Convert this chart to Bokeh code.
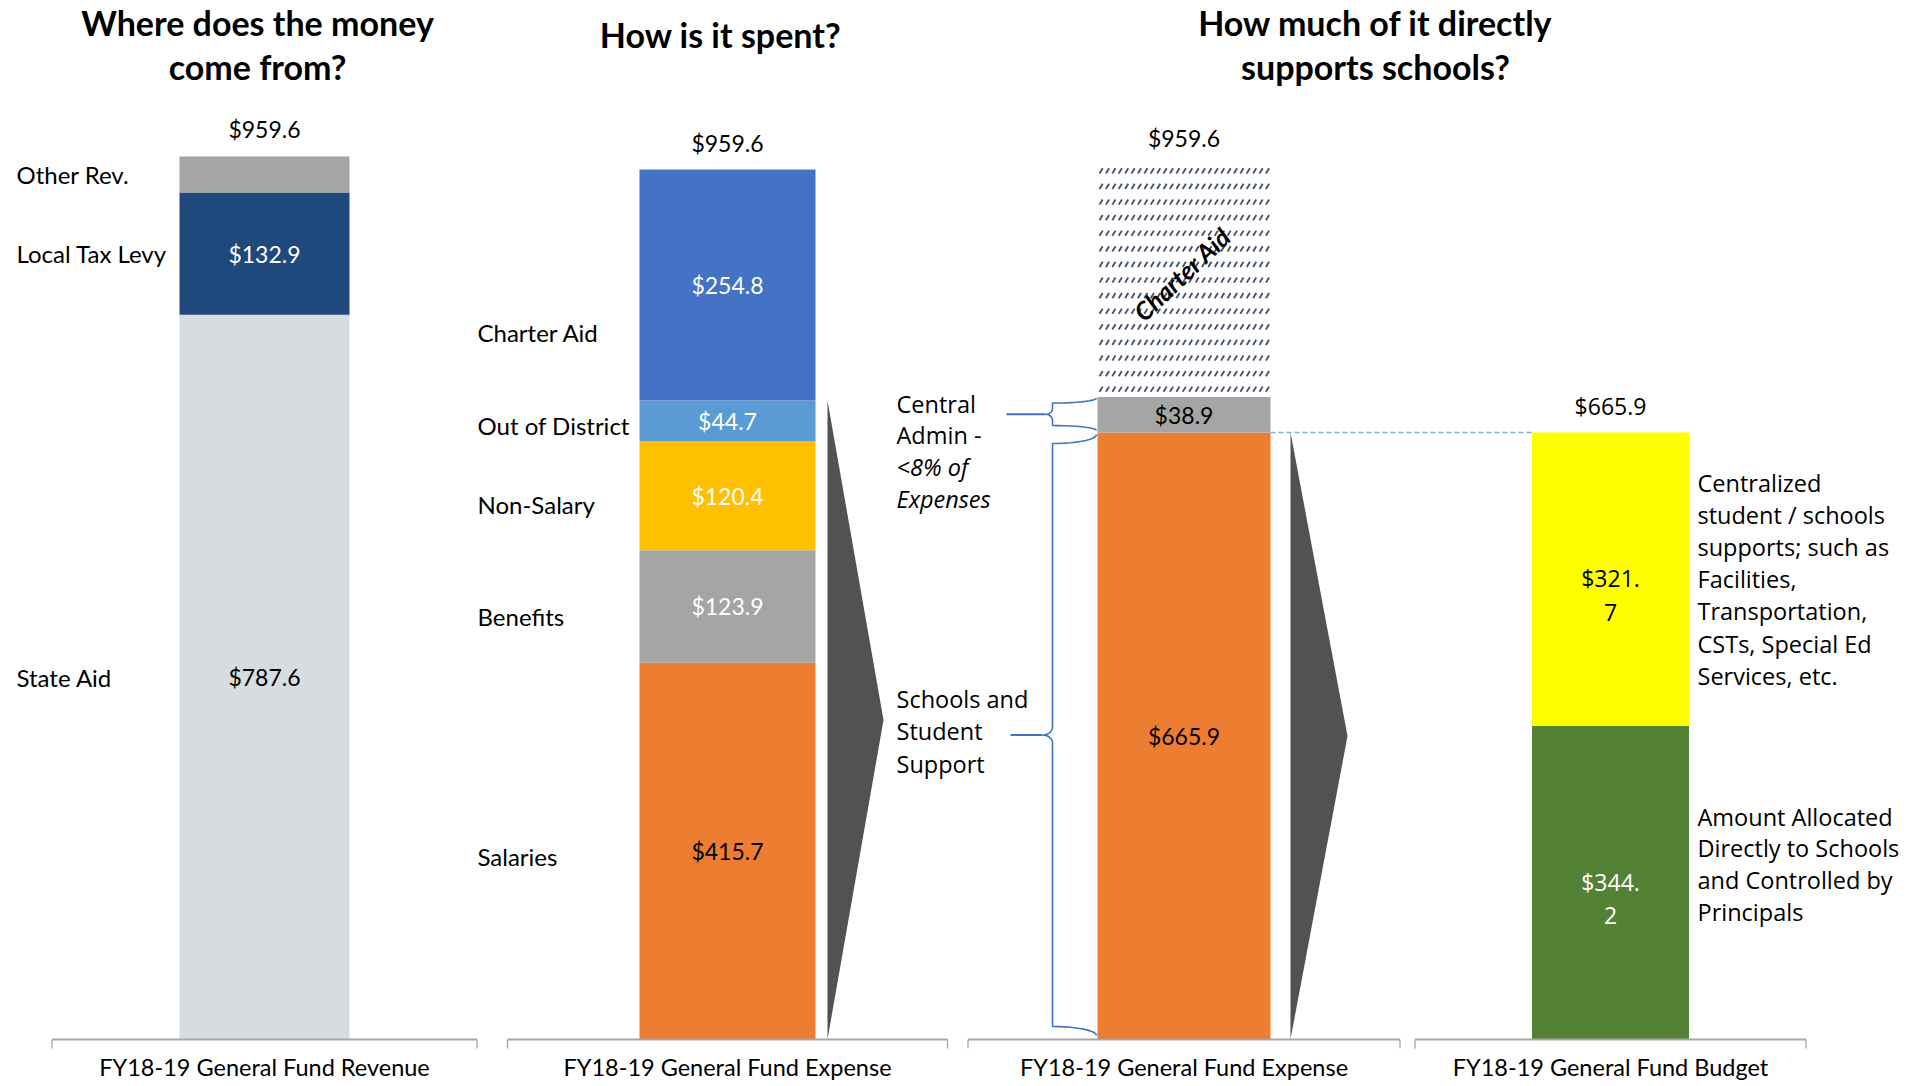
from bokeh.plotting import figure
from bokeh.models import Range1d, ColumnDataSource
from bokeh.core.properties import value
from bokeh.embed import file_html
from bokeh.resources import INLINE
import numpy as np

# ---------------- data ----------------
rev_cats = ["State Aid", "Local Tax Levy", "Other Rev."]
rev_vals = [787.6, 132.9, 39.1]
rev_total = 959.6

exp_cats = ["Salaries", "Benefits", "Non-Salary", "Out of District", "Charter Aid"]
exp_vals = [415.7, 123.9, 120.4, 44.7, 254.8]
exp_total = 959.6

sch_cats = ["Schools and Student Support", "Central Admin", "Charter Aid"]
sch_vals = [665.9, 38.9, 254.8]
sch_total = 959.6

bud_cats = ["Amount Allocated Directly to Schools", "Centralized student / schools supports"]
bud_vals = [344.2, 321.7]
bud_total = 665.9

axis_labels = ["FY18-19 General Fund Revenue", "FY18-19 General Fund Expense",
               "FY18-19 General Fund Expense", "FY18-19 General Fund Budget"]
titles = [["Where does the money", "come from?"], ["How is it spent?"],
          ["How much of it directly", "supports schools?"]]

# ---------------- layout / style ----------------
W, H = 1905, 1080
BASE = 1039                      # screen y of the zero line
centers = [264, 727, 1183.5, 1610]
widths = [170, 176, 173, 157]
scales = [0.9202, 0.9066, 0.9115, 0.9115]   # px per $M
LAB = value("Lato")
SEG = value("Open Sans")

def vrange(s):
    return Range1d(start=(BASE - H) / s, end=BASE / s)

def sy(v, s):
    return BASE - v * s

p = figure(width=W, height=H, output_backend="svg", toolbar_location=None,
           x_range=Range1d(0, W), y_range=vrange(scales[1]),
           x_axis_location=None, y_axis_location=None, min_border=0)
p.extra_y_ranges = {"p1": vrange(scales[0]), "p3": vrange(scales[2]),
                    "scr": Range1d(start=H, end=0)}
p.xgrid.visible = False
p.ygrid.visible = False
p.outline_line_color = None
p.background_fill_color = "white"
p.border_fill_color = "white"

def fmt(v):
    return "$%.1f" % v

def stack(vals):
    tops = list(np.cumsum(vals))
    bots = [0.0] + tops[:-1]
    return bots, tops

# ---------- panel 1 : revenue ----------
b1, t1 = stack(rev_vals)
src1 = ColumnDataSource(dict(x=[centers[0]] * 3, bottom=b1, top=t1,
                             color=["#D6DCE0", "#1F497D", "#A5A5A5"],
                             mid=[(a + b) / 2 for a, b in zip(b1, t1)],
                             cat=rev_cats,
                             lab=[fmt(rev_vals[0]), fmt(rev_vals[1]), ""],
                             lc=["#000000", "#FFFFFF", "#000000"],
                             lx=[16] * 3))
p.vbar(x="x", width=widths[0], bottom="bottom", top="top", fill_color="color",
       line_color=None, source=src1, y_range_name="p1")
p.text(x="x", y="mid", text="lab", text_color="lc", text_font=LAB, text_font_size="23px",
       text_align="center", text_baseline="middle", source=src1, y_range_name="p1")
p.text(x="lx", y="mid", text="cat", text_color="#000000", text_font=LAB, text_font_size="24px",
       text_align="left", text_baseline="middle", source=src1, y_range_name="p1")

# ---------- panel 2 : expense ----------
b2, t2 = stack(exp_vals)
exp_label_y = [856, 616, 504, 425, 332]
src2 = ColumnDataSource(dict(x=[centers[1]] * 5, bottom=b2, top=t2,
                             color=["#ED7D31", "#A5A5A5", "#FFC000", "#5B9BD5", "#4472C4"],
                             mid=[(a + b) / 2 for a, b in zip(b2, t2)],
                             lab=[fmt(v) for v in exp_vals],
                             lc=["#000000", "#FFFFFF", "#FFFFFF", "#FFFFFF", "#FFFFFF"]))
p.vbar(x="x", width=widths[1], bottom="bottom", top="top", fill_color="color",
       line_color=None, source=src2)
p.text(x="x", y="mid", text="lab", text_color="lc", text_font=LAB, text_font_size="23px",
       text_align="center", text_baseline="middle", source=src2)
p.text(x=[477] * 5, y=exp_label_y, text=exp_cats, text_color="#000000", text_font=LAB,
       text_font_size="24px", text_align="left", text_baseline="middle", y_range_name="scr")

# ---------- panel 3 : schools ----------
b3, t3 = stack(sch_vals)
s3 = scales[2]
p.vbar(x=[centers[2]] * 2, width=widths[2], bottom=b3[:2], top=t3[:2],
       fill_color=["#ED7D31", "#A5A5A5"], line_color=None, y_range_name="p3")
# hatched Charter Aid block: rows of short slashes inside the segment
hx0 = centers[2] - widths[2] / 2
hx1 = centers[2] + widths[2] / 2
h_top, h_bot = sy(t3[2], s3), sy(b3[2], s3)
rows = np.arange(h_top + 6, h_bot - 2, 15.6)
cols = np.arange(hx0 + 2, hx1 - 3, 6.4)
HX, HY = np.meshgrid(cols, rows)
HX, HY = HX.ravel(), HY.ravel()
p.segment(x0=HX, y0=HY + 2.6, x1=HX + 3.2, y1=HY - 2.6, line_color="#44546A",
          line_width=1.9, y_range_name="scr")
p.text(x=[centers[2] - 2], y=[(b3[2] + t3[2]) / 2 + 8], text=["Charter Aid"], angle=0.76,
       text_color="#000000", text_font=LAB, text_font_size="25px", text_font_style="bold italic",
       text_align="center", text_baseline="middle", y_range_name="p3")
p.text(x=[centers[2]] * 2, y=[(b3[0] + t3[0]) / 2, (b3[1] + t3[1]) / 2],
       text=[fmt(sch_vals[0]), fmt(sch_vals[1])], text_color="#000000", text_font=LAB,
       text_font_size="23px", text_align="center", text_baseline="middle", y_range_name="p3")

# ---------- panel 4 : budget ----------
b4, t4 = stack(bud_vals)
wrap = lambda v: fmt(v)[:-1] + "\n" + fmt(v)[-1]
p.vbar(x=[centers[3]] * 2, width=widths[3], bottom=b4, top=t4,
       fill_color=["#548235", "#FFFF00"], line_color=None, y_range_name="p3")
p.text(x=[centers[3]] * 2, y=[(a + b) / 2 for a, b in zip(b4, t4)],
       text=[wrap(v) for v in bud_vals], text_color=["#FFFFFF", "#000000"], text_font=SEG,
       text_font_size="23px", text_align="center", text_baseline="middle",
       text_line_height=1.05, y_offset=16, y_range_name="p3")

# ---------- totals above bars ----------
for c, tot, rn in [(centers[0], rev_total, "p1"), (centers[1], exp_total, "default"),
                   (centers[2], sch_total, "p3")]:
    p.text(x=[c], y=[tot], text=[fmt(tot)], text_color="#000000", text_font=LAB,
           text_font_size="23px", text_align="center", text_baseline="middle",
           y_offset=-27, y_range_name=rn)
p.text(x=[centers[3]], y=[bud_total], text=[fmt(bud_total)], text_color="#000000", text_font=SEG,
       text_font_size="23px", text_align="center", text_baseline="middle",
       y_offset=-27, y_range_name="p3")

# ---------- arrows ----------
p.patch(x=[827, 883, 827], y=[sum(exp_vals[:4]), sum(exp_vals[:4]) / 2, 0],
        fill_color="#525252", line_color=None)
p.patch(x=[1290, 1347, 1290], y=[sch_vals[0], sch_vals[0] / 2, 0],
        fill_color="#525252", line_color=None, y_range_name="p3")

# dashed connector
p.segment(x0=[hx1], x1=[centers[3] - widths[3] / 2],
          y0=[bud_total], y1=[bud_total], line_color="#8FAADC", line_width=1.6,
          line_dash="5 3", y_range_name="p3")

# ---------- braces ----------
def brace(x_right, x_mid, x_tip, y_top, y_bot, r_arm, r_mid):
    yc = (y_top + y_bot) / 2
    t = np.linspace(0, np.pi / 2, 12)
    dx = x_right - x_mid
    xs, ys = [], []
    xs += list(x_mid + dx * np.cos(t)); ys += list(y_top + r_arm * np.sin(t))
    dt = x_mid - x_tip
    xs += list(x_tip + dt * np.cos(t)); ys += list(yc - r_mid + r_mid * np.sin(t))
    xs += list(x_tip + dt * np.sin(t)); ys += list(yc + r_mid - r_mid * np.cos(t))
    xs += list(x_mid + dx * np.sin(t)); ys += list(y_bot - r_arm * np.cos(t))
    return xs, ys, yc

bx_r = hx0 - 1
xs, ys, yc1 = brace(bx_r, 1052, 1045, sy(t3[1], s3) + 1, sy(b3[1], s3) - 2, 5, 6)
p.line(xs, ys, line_color="#4472C4", line_width=1.6, y_range_name="scr")
p.line([1006, 1045], [yc1, yc1], line_color="#4472C4", line_width=2, y_range_name="scr")
xs, ys, yc2 = brace(bx_r, 1052, 1042, sy(t3[0], s3) + 2, sy(0, s3) - 4, 9, 8)
p.line(xs, ys, line_color="#4472C4", line_width=1.6, y_range_name="scr")
p.line([1010, 1042], [yc2, yc2], line_color="#4472C4", line_width=2, y_range_name="scr")

# ---------- annotation texts ----------
def lines(x, y0, step, txts, font, size, styles=None):
    st = styles if styles else ["normal"] * len(txts)
    for i, (tt, ss) in enumerate(zip(txts, st)):
        p.text(x=[x], y=[y0 + i * step], text=[tt], text_color="#000000", text_font=font,
               text_font_size=size, text_font_style=ss, text_align="left",
               text_baseline="middle", y_range_name="scr")

lines(896, 403, 31.7, ["Central", "Admin -", "<8% of", "Expenses"], SEG, "23.5px",
      styles=["normal", "normal", "italic", "italic"])
lines(896, 698, 32.5, ["Schools and", "Student", "Support"], SEG, "23.5px")
lines(1697, 482, 32.2, ["Centralized", "student / schools", "supports; such as", "Facilities,",
                        "Transportation,", "CSTs, Special Ed", "Services, etc."], SEG, "23.5px")
lines(1697, 816, 31.8, ["Amount Allocated", "Directly to Schools", "and Controlled by",
                        "Principals"], SEG, "23.5px")

# titles
for c, tl in zip([257, 720, 1375], titles):
    y0 = 34 if len(tl) == 1 else 22
    for i, t in enumerate(tl):
        p.text(x=[c], y=[y0 + 44 * i], text=[t], text_color="#000000", text_font=LAB,
               text_font_size="34px", text_font_style="bold", text_align="center",
               text_baseline="middle", y_range_name="scr")

# ---------- category axes ----------
half = [212.5, 220, 216, 195.5]
x0 = [c - h for c, h in zip(centers, half)]
x1 = [c + h for c, h in zip(centers, half)]
p.segment(x0=x0, x1=x1, y0=[BASE] * 4, y1=[BASE] * 4, line_color="#A6A6A6", line_width=2.2,
          y_range_name="scr")
p.segment(x0=x0 + x1, x1=x0 + x1, y0=[BASE] * 8, y1=[BASE + 9] * 8, line_color="#A6A6A6",
          line_width=1.3, y_range_name="scr")
p.text(x=centers, y=[1066] * 4, text=axis_labels, text_color="#000000", text_font=LAB,
       text_font_size="23.5px", text_align="center", text_baseline="middle", y_range_name="scr")

open("out.html", "w").write(file_html(p, INLINE))
